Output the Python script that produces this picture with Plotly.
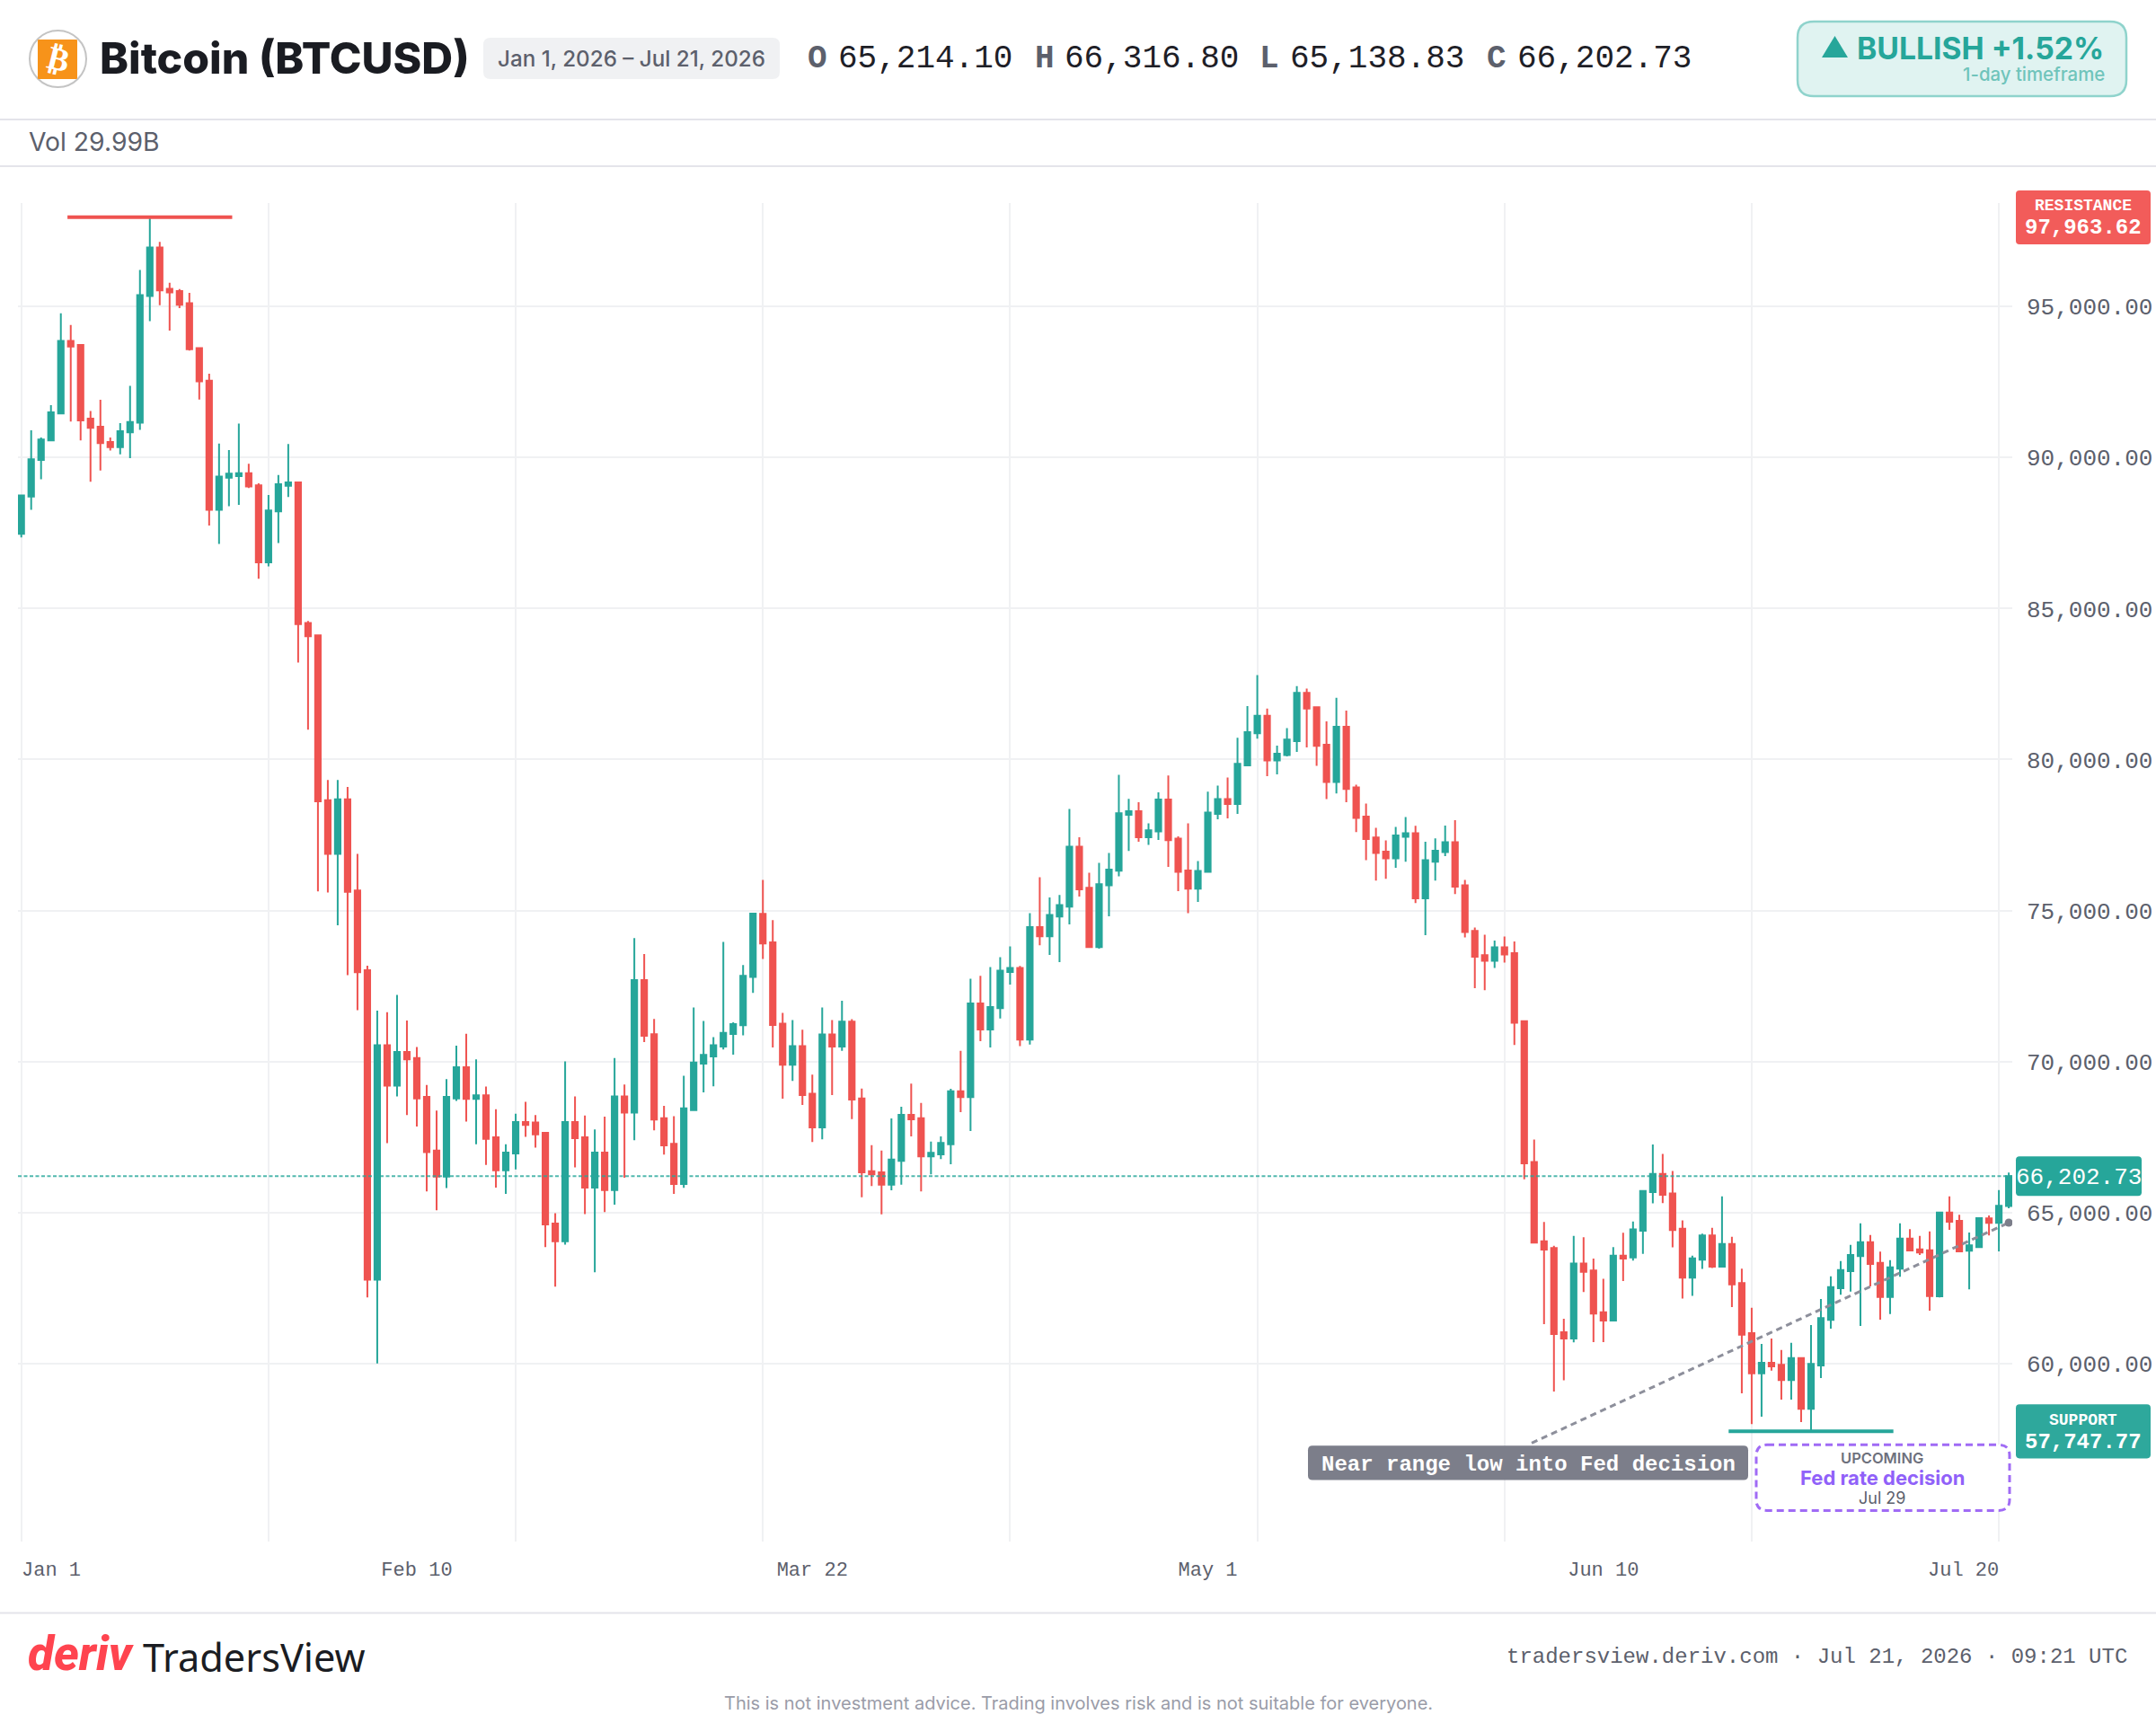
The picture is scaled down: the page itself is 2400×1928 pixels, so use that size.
from datetime import datetime, timedelta
import plotly.graph_objects as go

# Daily BTCUSD candles, Jan 1 - Jul 21, 2026
START = datetime(2026, 1, 1)

opens = [87474,88710,89919,90570,91460,93865,93732,91287,91022,90517,90344,90836,91155,95353,96961,95592,95512,95114,93626,92550,
88272,89334,89388,89481,89082,86531,88218,89069,89175,84525,84113,78651,76872,78684,75665,73021,62772,70540,69202,70312,
70116,68826,67048,66183,68777,69806,68761,68875,67488,66395,66950,67994,67977,67635,64632,64045,67994,67488,65824,66982,
65742,68843,68304,72694,70899,68123,67270,65941,68391,69929,70167,70494,70911,71198,72796,74889,73946,71248,69889,70504,
68927,67816,70891,70494,71317,68778,66367,66328,65921,66705,68232,68123,66853,66923,67260,69016,68818,71923,71059,71764,
72964,73093,70722,74452,74144,74799,75127,77111,75752,73787,75831,76317,78172,78291,77428,77616,78678,77378,76327,75722,
76277,78202,78688,78529,79809,80870,81446,79967,80146,80612,82209,81733,80493,79253,81088,79075,78112,77418,76952,76724,
77438,77557,75404,76614,76932,77259,75831,74323,73519,73331,73777,73588,71335,66668,64042,63819,61034,60822,63309,63075,
61693,61417,63564,63511,64393,65669,66275,65626,64457,62841,63436,64234,63202,63957,62657,61001,59671,60018,59949,59443,
60177,58491,59929,61437,62489,63054,63550,64016,63332,62201,63133,64135,63778,63748,62221,64998,64721,63729,63848,64800,
64651,65214.10]
highs = [88776,90902,90663,91739,94782,94396,93760,91540,91912,90663,91141,92377,96217,97963.62,97147,95791,95579,95459,93640,92776,
90464,90251,91128,89799,89148,88763,89427,90450,89188,84591,84135,79320,79320,79092,76872,73168,71683,71634,72205,71356,
70475,69218,68370,69414,70524,70915,70067,69169,68419,67260,68272,68663,68223,67651,64975,70002,68843,68206,67749,68174,
70116,69235,74082,73559,71405,68530,68183,69522,71784,71337,70802,73956,71298,73192,74899,76010,74680,71605,71367,71050,
69562,71784,71367,72012,71397,69105,67230,67052,68113,68500,69264,68629,67349,67518,69095,70355,72736,72835,73123,73450,
73807,73162,74908,76099,75434,75513,78360,77428,76247,76575,76902,79491,78698,78589,77884,78916,79472,77458,77884,76634,
78936,79134,79402,80721,81773,82795,81684,80463,81039,82428,82348,81753,81267,82041,81624,79164,78539,77736,77319,77765,
78093,77805,77279,77388,77815,77993,76009,74432,74194,74006,74135,73971,71345,67412,64680,63893,61480,64223,64181,63468,
62799,63851,64329,64701,65743,67253,66934,66370,64733,63564,64298,64489,65530,64191,63133,61844,60644,60822,60445,60683,
60190,61268,62132,62885,63391,63927,64641,64254,63699,63421,64641,64443,64225,64373,65028,65534,64919,64334,64820,64899,
65742,66316.80]
lows = [87355,88272,89281,90570,91460,91194,90570,89201,89574,90238,90105,89985,90916,94516,95047,94210,94954,93546,91925,87753,
87142,88391,88431,88989,85986,86398,87169,88697,83210,80991,75632,75599,74506,72857,71699,62184,59997,67292,68843,68223,
67847,65693,65073,65807,68696,68011,67260,66574,65824,65611,66427,67505,67145,63849,62543,63930,66493,64942,63017,65008,
65253,66150,67390,70638,67717,66913,65613,65812,68391,68976,69175,70395,70226,70861,72270,73391,70464,68768,69353,68560,
67330,67419,68887,70355,68093,65504,65871,64939,65733,65921,67518,65693,66258,66764,66595,68322,67697,70673,70464,71426,
72547,70504,70563,73847,73529,73291,74541,75464,73767,73738,74809,76128,76972,77279,77170,77339,76446,75642,74908,75285,
76267,78023,78053,78202,79779,80692,79452,79511,80106,80255,80404,79789,78688,78876,78589,77596,76664,75990,76049,76416,
76614,75245,74184,75990,76803,75543,74105,72428,72359,73093,73271,70548,66094,63979,61300,59068,59439,60694,62363,60704,
60704,61417,62724,63405,63628,65297,65307,63840,62150,62235,63128,63160,63202,61863,59007,57985,58233,59761,58798,58798,
58054,57747.77,59513,61149,62270,62380,61239,62548,61447,61636,62866,63739,63590,61744,62181,64423,63689,62449,63848,64235,
63709,65138.83]
closes = [88750,89946,90597,91500,93865,93679,91234,90982,90477,90344,90876,91181,95380,96961,95539,95473,95061,93586,92523,88272,
89374,89467,89481,89042,86531,88245,89122,89175,84485,84086,78618,76872,78684,75616,72956,62772,70540,69202,70312,70067,
68777,66999,66183,68826,69806,68761,68875,67439,66395,66982,67994,67896,67586,64600,64045,67994,67456,65824,66982,65742,
68843,68304,72694,70850,68076,67220,65941,68450,69968,70216,70534,70950,71238,72835,74899,73907,71208,69889,70504,68887,
67816,70891,70494,71317,68738,66328,66258,65921,66754,68232,68084,66853,66973,67300,69016,68818,71923,71055,71803,73004,
73093,70722,74452,74144,74849,75176,77111,75702,73787,75871,76357,78222,78291,77428,77656,78678,77329,76277,75722,76307,
78241,78688,78529,79858,80910,81446,79967,80196,80662,82209,81684,80454,79253,81088,79025,78063,77368,76902,76724,77488,
77557,75404,76664,76982,77259,75791,74283,73470,73331,73777,73539,71281,66625,63999,63766,60972,60822,63309,63032,61651,
61417,63564,63468,64436,65711,66275,65583,64414,62841,63479,64234,63202,63957,62618,60951,59671,60018,59900,59443,60177,
58491,59979,61497,62528,63094,63590,64016,63292,62201,63183,64135,63739,63669,62231,64998,64691,63709,63907,64810,64651,
65217,66202.73]

y_ticks = [60000, 65000, 70000, 75000, 80000, 85000, 90000, 95000]
x_labels = {40: "Feb 10", 80: "Mar 22", 120: "May 1", 160: "Jun 10"}
grid_days = [0, 25, 50, 75, 100, 125, 150, 175, 200]

resistance = 97963.62
support = 57747.77
last_price = 66202.73
resistance_day = 13
support_day = 181
level_half_span = 8.33
trend_days = [152.75, 201]
trend_values = [57360, 64661]

TEAL = "#26a69a"
RED = "#ef5350"
GRID = "#f0f1f3"
INK = "#1e2027"
MUTED = "#5c606c"
SANS = "Inter"
MONO = "Liberation Mono"

# Page geometry, in pixels
W, H = 2400, 1928
PL, PR, PT, PB = 20, 2240, 226, 1715.6
PX_PER_DAY = 11.007
PX_PER_USD = 168 / 5000
Y_60K = 1517.3
TEXT_PAD = 3


def day(d):
    return (START + timedelta(days=d)).isoformat()


def fx(px):
    return (px - PL) / (PR - PL)


def fy(py):
    return 1 - (py - PT) / (PB - PT)


dates = [day(i) for i in range(len(opens))]
x_range = [day(-(23.7 - PL) / PX_PER_DAY), day((PR - 23.7) / PX_PER_DAY)]
y_range = [60000 + (Y_60K - PB) / PX_PER_USD, 60000 + (Y_60K - PT) / PX_PER_USD]

fig = go.Figure()

fig.add_trace(go.Candlestick(
    x=dates, open=opens, high=highs, low=lows, close=closes,
    increasing=dict(line=dict(color=TEAL, width=2), fillcolor=TEAL),
    decreasing=dict(line=dict(color=RED, width=2), fillcolor=RED),
    whiskerwidth=0, showlegend=False, hoverinfo="skip",
))

# Last price, key levels and the trend into the upcoming event
fig.add_trace(go.Scatter(
    x=x_range, y=[last_price, last_price], mode="lines",
    line=dict(color="rgba(38,166,154,0.8)", width=2, dash="4px,2.5px"),
    showlegend=False, hoverinfo="skip",
))
fig.add_trace(go.Scatter(
    x=[day(resistance_day - level_half_span), day(resistance_day + level_half_span)],
    y=[resistance, resistance], mode="lines",
    line=dict(color=RED, width=4), showlegend=False, hoverinfo="skip",
))
fig.add_trace(go.Scatter(
    x=[day(support_day - level_half_span), day(support_day + level_half_span)],
    y=[support, support], mode="lines",
    line=dict(color=TEAL, width=4), showlegend=False, hoverinfo="skip",
))
fig.add_trace(go.Scatter(
    x=[day(d) for d in trend_days], y=trend_values, mode="lines",
    line=dict(color="#8d8f9b", width=3, dash="7px,5px"),
    showlegend=False, hoverinfo="skip",
))
fig.add_trace(go.Scatter(
    x=[day(trend_days[1])], y=[trend_values[1]], mode="markers",
    marker=dict(color="#7c7e8a", size=9), showlegend=False, hoverinfo="skip",
))

shapes = []
notes = []


def hline(py):
    shapes.append(dict(type="line", xref="paper", yref="paper", x0=fx(0), x1=fx(W),
                       y0=fy(py), y1=fy(py), line=dict(color="#e4e4ea", width=2)))


def box(x0, y0, x1, y1, r, fill, line=None, width=0, dash=None):
    path = (
        f"M {fx(x0 + r)} {fy(y0)} L {fx(x1 - r)} {fy(y0)} Q {fx(x1)} {fy(y0)} {fx(x1)} {fy(y0 + r)} "
        f"L {fx(x1)} {fy(y1 - r)} Q {fx(x1)} {fy(y1)} {fx(x1 - r)} {fy(y1)} "
        f"L {fx(x0 + r)} {fy(y1)} Q {fx(x0)} {fy(y1)} {fx(x0)} {fy(y1 - r)} "
        f"L {fx(x0)} {fy(y0 + r)} Q {fx(x0)} {fy(y0)} {fx(x0 + r)} {fy(y0)} Z"
    )
    shapes.append(dict(type="path", xref="paper", yref="paper", path=path, fillcolor=fill,
                       line=dict(color=line or fill, width=width, dash=dash), layer="above"))


def text(s, x, y, size, color, family=SANS, weight=400, anchor="left", style="normal"):
    if anchor == "left":
        x -= TEXT_PAD
    elif anchor == "right":
        x += TEXT_PAD
    notes.append(dict(text=s, xref="paper", yref="paper", x=fx(x), y=fy(y), xanchor=anchor,
                      yanchor="middle", showarrow=False, align=anchor,
                      font=dict(family=family, size=size, color=color, weight=weight, style=style)))


# Header
hline(133)
hline(185)
shapes.append(dict(type="circle", xref="paper", yref="paper", x0=fx(33), x1=fx(96), y0=fy(34), y1=fy(97),
                   line=dict(color="#c4c4c4", width=2), fillcolor="white"))
box(42, 44, 86, 88, 1, "#f7931a")
notes.append(dict(text="₿", xref="paper", yref="paper", x=fx(64.5), y=fy(66), xanchor="center", yanchor="middle",
                  showarrow=False, textangle=14,
                  font=dict(family="DejaVu Sans", size=36, color="white", weight=800)))
text("Bitcoin (BTCUSD)", 112, 65, 48.2, "#1a1c22", weight=800)
box(538, 42, 868, 88, 8, "#f0f1f3")
text("Jan 1, 2026 – Jul 21, 2026", 703, 66, 24.2, MUTED, weight=500, anchor="center")

ohlc_letters = [("O", 900, "65,214.10", 934), ("H", 1153, "66,316.80", 1186),
                ("L", 1403, "65,138.83", 1437), ("C", 1656, "66,202.73", 1690)]
for letter, lx, value, vx in ohlc_letters:
    text(letter, lx, 66, 36, MUTED, family=MONO, weight=700)
    text(value, vx, 66, 36, INK, family=MONO)

box(2001, 24, 2367, 107, 18, "#e0f3f1", line="#8fd3cc", width=2.5)
shapes.append(dict(type="path", xref="paper", yref="paper", layer="above", fillcolor=TEAL, line=dict(width=0),
                   path=f"M {fx(2028)} {fy(64)} L {fx(2057)} {fy(64)} L {fx(2042.5)} {fy(40)} Z"))
text("BULLISH +1.52%", 2068, 54, 33.7, TEAL, weight=700)
text("1-day timeframe", 2342, 83, 20.4, "#6fc4bb", weight=500, anchor="right")

text("Vol 29.99B", 33, 158, 28.3, MUTED)

# Right-hand price tags
box(2244, 212, 2394, 272, 4, "#f25c5a")
text("RESISTANCE", 2319, 229, 18, "white", family=MONO, weight=700, anchor="center")
text("97,963.62", 2319, 253, 24, "white", family=MONO, weight=700, anchor="center")
box(2244, 1287, 2384, 1331, 4, TEAL)
text("66,202.73", 2314, 1311, 26, "white", family=MONO, anchor="center")
box(2244, 1563, 2394, 1623, 4, "#2ea89c")
text("SUPPORT", 2319, 1581, 18, "white", family=MONO, weight=700, anchor="center")
text("57,747.77", 2319, 1605, 24, "white", family=MONO, weight=700, anchor="center")

# Callouts inside the plot
box(1456, 1609, 1946, 1647, 5, "#7c7e8a")
text("Near range low into Fed decision", 1701, 1630, 24, "white", family=MONO, weight=700, anchor="center")
box(1955, 1608, 2237, 1681, 12, "white", line="#a06bf5", width=3, dash="8px,5px")
text("UPCOMING", 2095, 1623, 16.5, "#6e717d", weight=600, anchor="center")
text("Fed rate decision", 2095, 1645, 22, "#9061f9", weight=700, anchor="center")
text("Jul 29", 2095, 1667, 18, MUTED, anchor="center")

# Edge labels of the time axis sit inside the plot width
for d, label, anchor, px in [(0, "Jan 1", "left", 25), (200, "Jul 20", "right", 2224)]:
    text(label, px, 1748, 22, MUTED, family=MONO, anchor=anchor)

# Footer
hline(1795)
text("deriv", 32, 1841, 53, "#ff444f", family="Roboto", weight=800, style="italic")
text("TradersView", 160, 1844, 43.3, "#1a1c22", family="Noto Sans")
text("tradersview.deriv.com · Jul 21, 2026 · 09:21 UTC", 2367, 1844, 24, MUTED, family=MONO, anchor="right")
text("This is not investment advice. Trading involves risk and is not suitable for everyone.",
     1200, 1896, 20, "#9a9ca8", anchor="center")

fig.update_layout(
    width=W, height=H, autosize=False,
    margin=dict(l=PL, r=W - PR, t=PT, b=H - PB, pad=0, autoexpand=False),
    paper_bgcolor="white", plot_bgcolor="white",
    showlegend=False, boxgap=0.2, shapes=shapes, annotations=notes,
    xaxis=dict(
        type="date", range=x_range, rangeslider=dict(visible=False), automargin=False,
        tickmode="array", tickvals=[day(d) for d in x_labels], ticktext=list(x_labels.values()),
        showgrid=False, zeroline=False, showline=False, ticks="", ticklabelstandoff=15,
        tickfont=dict(family=MONO, size=22, color=MUTED),
        minor=dict(tickmode="array", tickvals=[day(d) for d in grid_days], showgrid=True,
                   gridcolor=GRID, gridwidth=2, ticks=""),
    ),
    yaxis=dict(
        range=y_range, side="right", tickmode="array", tickvals=y_ticks, automargin=False,
        ticktext=[f"{v:,.2f}" for v in y_ticks], showgrid=True, gridcolor=GRID, gridwidth=2,
        zeroline=False, showline=False, ticks="", ticklabelstandoff=15,
        tickfont=dict(family=MONO, size=26, color=MUTED),
    ),
)

fig.write_html("out.html", config=dict(displayModeBar=False))
